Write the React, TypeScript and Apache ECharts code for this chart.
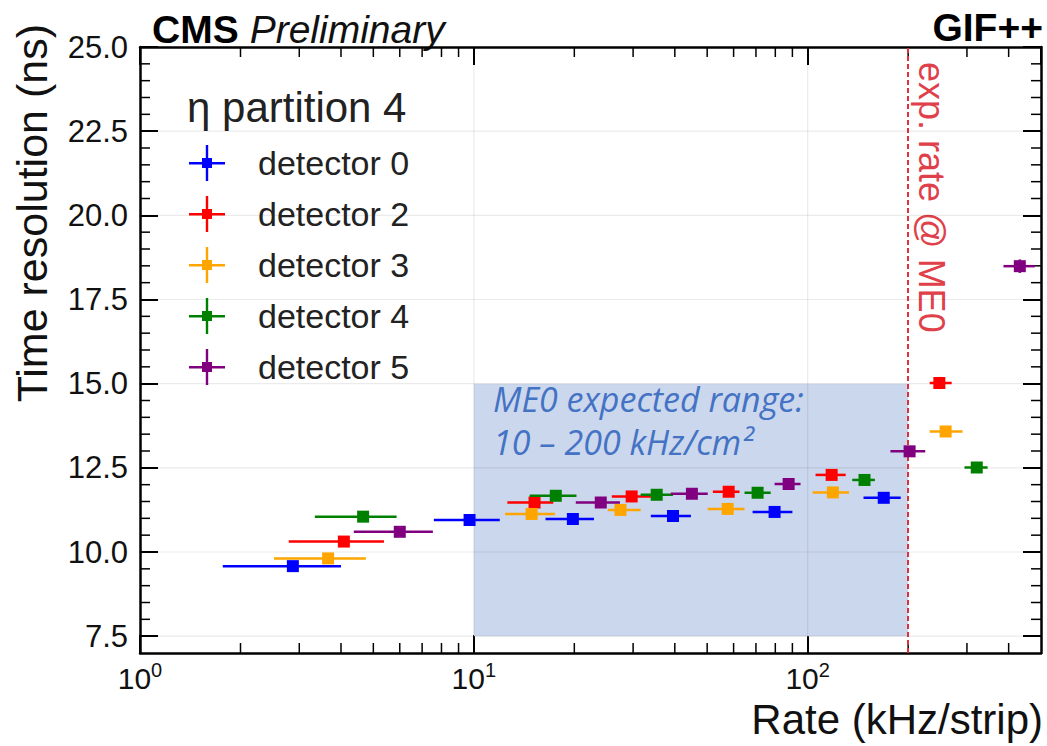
import React, { useEffect, useRef } from "react";
import * as echarts from "echarts";

// [rate (kHz/strip), time resolution (ns), rate low, rate high, resolution error]
const detector0 = [
  [2.87, 9.58, 1.77, 4.0, 0.08],
  [9.71, 10.95, 7.59, 11.96, 0.08],
  [19.8, 10.98, 16.4, 22.9, 0.08],
  [39.5, 11.07, 33.9, 44.7, 0.08],
  [79.6, 11.19, 68.4, 90.0, 0.08],
  [169, 11.61, 147, 190, 0.08],
];
const detector2 = [
  [4.08, 10.31, 2.79, 5.38, 0.08],
  [15.2, 11.47, 12.6, 17.3, 0.08],
  [29.7, 11.65, 25.9, 33.9, 0.08],
  [58.0, 11.79, 52.0, 62.5, 0.08],
  [118, 12.29, 105.6, 130, 0.1],
  [248, 15.02, 232, 270, 0.18],
];
const detector3 = [
  [3.66, 9.81, 2.52, 4.75, 0.08],
  [14.9, 11.13, 12.4, 17.5, 0.08],
  [27.5, 11.25, 25.2, 31.6, 0.08],
  [57.6, 11.28, 50.2, 64.7, 0.08],
  [119, 11.77, 103.5, 133, 0.1],
  [259, 13.58, 232, 291, 0.12],
];
const detector4 = [
  [4.66, 11.05, 3.34, 5.87, 0.08],
  [17.6, 11.67, 14.7, 20.3, 0.08],
  [35.3, 11.7, 31.6, 39.5, 0.08],
  [70.8, 11.76, 64.7, 77.5, 0.08],
  [148, 12.14, 136, 159, 0.1],
  [321, 12.51, 295, 346, 0.12],
];
const detector5 = [
  [6.0, 10.6, 4.37, 7.54, 0.08],
  [24.0, 11.47, 20.2, 27.4, 0.08],
  [45.0, 11.73, 38.9, 50.2, 0.08],
  [87.7, 12.02, 79.6, 95.2, 0.1],
  [202, 12.99, 177, 225, 0.15],
  [432, 18.49, 386, 479, 0.2],
];

const seriesNames = ["detector 0", "detector 2", "detector 3", "detector 4", "detector 5"];
const seriesColors = ["#0000ff", "#ff0000", "#ffa500", "#008000", "#800080"];
const seriesData = [detector0, detector2, detector3, detector4, detector5];

const yMajorTicks = [7.5, 10, 12.5, 15, 17.5, 20, 22.5, 25];
const yGridValues = [7.5, 10, 12.5, 15, 17.5, 20, 22.5];
const yMinorTicks = [8, 8.5, 9, 9.5, 10.5, 11, 11.5, 12, 13, 13.5, 14, 14.5, 15.5, 16, 16.5, 17, 18, 18.5, 19, 19.5, 20.5, 21, 21.5, 22, 23, 23.5, 24, 24.5];
const xMinorTicks = [2, 3, 4, 5, 6, 7, 8, 9, 20, 30, 40, 50, 60, 70, 80, 90, 200, 300, 400];
const xGridValues = [10, 100];

const expectedRange = [10, 200];
const expectedBand = [7.5, 15];
const expRateME0 = 200;

const X_MIN = 1;
const X_MAX = 500;
const Y_MIN = 7;
const Y_MAX = 25;

const FONT = "Liberation Sans, Arial, sans-serif";
const NOTE_FONT = "Open Sans, sans-serif";
const LEGEND_ICON = "path://M0,17H36V19.4H0Z M16.8,0H19.2V36H16.8Z M13,13H23V23H13Z";

export default function App() {
  const ref = useRef<HTMLDivElement>(null);
  useEffect(() => {
    if (!ref.current) return;
    const chart = echarts.init(ref.current, null, { renderer: "svg" });

    const pointSeries = seriesData.map((d, i) => ({
      type: "custom",
      name: seriesNames[i],
      xAxisIndex: 0,
      yAxisIndex: 0,
      z: 5,
      itemStyle: { color: seriesColors[i] },
      encode: { x: 0, y: 1 },
      data: d,
      renderItem: (params: any, api: any) => {
        const x = api.value(0);
        const y = api.value(1);
        const lo = api.value(2);
        const hi = api.value(3);
        const ye = api.value(4);
        const c = api.coord([x, y]);
        const pl = api.coord([lo, y]);
        const ph = api.coord([hi, y]);
        const pt = api.coord([x, y + ye]);
        const pb = api.coord([x, y - ye]);
        const color = seriesColors[i];
        return {
          type: "group",
          children: [
            { type: "line", shape: { x1: pl[0], y1: c[1], x2: ph[0], y2: c[1] }, style: { stroke: color, lineWidth: 2.5 } },
            { type: "line", shape: { x1: c[0], y1: pt[1], x2: c[0], y2: pb[1] }, style: { stroke: color, lineWidth: 2.5 } },
            { type: "rect", shape: { x: c[0] - 6, y: c[1] - 6, width: 12, height: 12 }, style: { fill: color } },
          ],
        };
      },
    }));

    const option: any = {
      animation: false,
      backgroundColor: "#ffffff",
      grid: { left: 140, right: 6, top: 47, bottom: 93, containLabel: false, outerBoundsMode: "none" },
      xAxis: [
        {
          type: "log",
          logBase: 10,
          min: X_MIN,
          max: X_MAX,
          position: "bottom",
          axisLine: { show: true, lineStyle: { color: "#000", width: 2.5 } },
          axisTick: { show: true, inside: true, length: 18, lineStyle: { color: "#000", width: 2 } },
          minorTick: { show: false },
          splitLine: { show: false },
          axisLabel: {
            show: true,
            margin: 7,
            showMaxLabel: false,
            formatter: (v: number) => {
              const e = Math.log10(v);
              const r = Math.round(e);
              if (Math.abs(e - r) > 1e-6) return "";
              return "{b|10}{s|" + r + "}";
            },
            rich: {
              b: { fontSize: 30, fontFamily: FONT, color: "#111" },
              s: { fontSize: 20, fontFamily: FONT, color: "#111", padding: [0, 0, 16, 0] },
            },
          },
        },
        {
          type: "log",
          logBase: 10,
          min: X_MIN,
          max: X_MAX,
          position: "top",
          axisLine: { show: true, lineStyle: { color: "#000", width: 2.5 } },
          axisTick: { show: true, inside: true, length: 18, lineStyle: { color: "#000", width: 2 } },
          axisLabel: { show: false },
          splitLine: { show: false },
        },
      ],
      yAxis: [
        {
          type: "value",
          min: Y_MIN,
          max: Y_MAX,
          position: "left",
          axisLine: { show: true, lineStyle: { color: "#000", width: 2.5 } },
          axisTick: { show: true, inside: true, length: 18, customValues: yMajorTicks, lineStyle: { color: "#000", width: 2 } },
          splitLine: { show: false },
          axisLabel: {
            show: true,
            margin: 12,
            customValues: yMajorTicks,
            formatter: (v: number) => v.toFixed(1),
            fontSize: 31,
            fontFamily: FONT,
            color: "#111",
          },
        },
        {
          type: "value",
          min: Y_MIN,
          max: Y_MAX,
          position: "right",
          axisLine: { show: true, lineStyle: { color: "#000", width: 2.5 } },
          axisTick: { show: true, inside: true, length: 18, customValues: yMajorTicks, lineStyle: { color: "#000", width: 2 } },
          axisLabel: { show: false },
          splitLine: { show: false },
        },
      ],
      legend: {
        show: true,
        orient: "vertical",
        left: 184,
        top: 140,
        itemWidth: 36,
        itemHeight: 36,
        itemGap: 15,
        selectedMode: false,
        data: seriesNames.map((n, i) => ({ name: n, icon: LEGEND_ICON, itemStyle: { color: seriesColors[i] } })),
        textStyle: { fontSize: 34, fontFamily: FONT, color: "#222", padding: [0, 0, 0, 28] },
      },
      graphic: [
        {
          type: "text",
          x: 152,
          y: 29,
          style: {
            text: "{b|CMS}{i|Preliminary}",
            verticalAlign: "middle",
            rich: {
              b: { fontSize: 39, fontWeight: "bold", fontFamily: FONT, fill: "#000" },
              i: { fontSize: 39, fontStyle: "italic", fontFamily: FONT, fill: "#111", padding: [0, 0, 0, 11] },
            },
          },
        },
        {
          type: "text",
          x: 1043,
          y: 27,
          style: { text: "GIF++", align: "right", verticalAlign: "middle", fontSize: 39, fontWeight: "bold", fontFamily: FONT, fill: "#000" },
        },
        {
          type: "text",
          x: 187,
          y: 107,
          style: { text: "η partition 4", verticalAlign: "middle", fontSize: 42, fontFamily: FONT, fill: "#222" },
        },
        {
          type: "text",
          x: 493,
          y: 399,
          z: 10,
          style: { text: "ME0 expected range:", verticalAlign: "middle", fontSize: 34, lineHeight: 38, fontStyle: "italic", fontFamily: NOTE_FONT, fill: "#4472c4" },
        },
        {
          type: "text",
          x: 493,
          y: 442,
          z: 10,
          style: { text: "10 – 200 kHz/cm²", verticalAlign: "middle", fontSize: 34, lineHeight: 38, fontStyle: "italic", fontFamily: NOTE_FONT, fill: "#4472c4" },
        },
        {
          type: "text",
          x: 931,
          y: 62,
          rotation: -Math.PI / 2,
          style: { text: "exp. rate @ ME0", align: "left", verticalAlign: "middle", fontSize: 36, fontFamily: FONT, fill: "#e0404a" },
        },
        {
          type: "text",
          x: 32,
          y: 24,
          rotation: Math.PI / 2,
          style: { text: "Time resolution (ns)", align: "right", verticalAlign: "middle", fontSize: 43, fontFamily: FONT, fill: "#111" },
        },
        {
          type: "text",
          x: 1043,
          y: 719,
          style: { text: "Rate (kHz/strip)", align: "right", verticalAlign: "middle", fontSize: 42, fontFamily: FONT, fill: "#111" },
        },
      ],
      series: [
        {
          type: "line",
          name: "bands",
          data: [],
          z: 1,
          silent: true,
          markArea: {
            silent: true,
            itemStyle: { color: "#cbd7ec", opacity: 1 },
            data: [[{ coord: [expectedRange[0], expectedBand[0]] }, { coord: [expectedRange[1], expectedBand[1]] }]],
          },
          markLine: {
            silent: true,
            symbol: ["none", "none"],
            label: { show: false },
            lineStyle: { color: "#e0303c", type: [5, 3], width: 2 },
            data: [{ xAxis: expRateME0 }],
          },
        },
        {
          type: "custom",
          name: "xgrid",
          z: 2,
          silent: true,
          data: xGridValues.map((v) => [v, 10]),
          encode: { x: 0, y: 1 },
          renderItem: (params: any, api: any) => {
            const p = api.coord([api.value(0), api.value(1)]);
            const cs = params.coordSys;
            return { type: "line", shape: { x1: p[0], y1: cs.y, x2: p[0], y2: cs.y + cs.height }, style: { stroke: "rgba(0,0,0,0.08)", lineWidth: 1.2 } };
          },
        },
        {
          type: "custom",
          name: "ygrid",
          z: 2,
          silent: true,
          data: yGridValues.map((v) => [10, v]),
          encode: { x: 0, y: 1 },
          renderItem: (params: any, api: any) => {
            const p = api.coord([api.value(0), api.value(1)]);
            const cs = params.coordSys;
            return { type: "line", shape: { x1: cs.x, y1: p[1], x2: cs.x + cs.width, y2: p[1] }, style: { stroke: "rgba(0,0,0,0.08)", lineWidth: 1.2 } };
          },
        },
        {
          type: "custom",
          name: "xminor",
          z: 4,
          silent: true,
          data: xMinorTicks.map((v) => [v, 10]),
          encode: { x: 0, y: 1 },
          renderItem: (params: any, api: any) => {
            const p = api.coord([api.value(0), api.value(1)]);
            const cs = params.coordSys;
            const b = cs.y + cs.height;
            return {
              type: "group",
              children: [
                { type: "line", shape: { x1: p[0], y1: b, x2: p[0], y2: b - 10 }, style: { stroke: "#000", lineWidth: 1.5 } },
                { type: "line", shape: { x1: p[0], y1: cs.y, x2: p[0], y2: cs.y + 10 }, style: { stroke: "#000", lineWidth: 1.5 } },
              ],
            };
          },
        },
        {
          type: "custom",
          name: "yminor",
          z: 4,
          silent: true,
          data: yMinorTicks.map((v) => [10, v]),
          encode: { x: 0, y: 1 },
          renderItem: (params: any, api: any) => {
            const p = api.coord([api.value(0), api.value(1)]);
            const cs = params.coordSys;
            const r = cs.x + cs.width;
            return {
              type: "group",
              children: [
                { type: "line", shape: { x1: cs.x, y1: p[1], x2: cs.x + 10, y2: p[1] }, style: { stroke: "#000", lineWidth: 1.5 } },
                { type: "line", shape: { x1: r, y1: p[1], x2: r - 10, y2: p[1] }, style: { stroke: "#000", lineWidth: 1.5 } },
              ],
            };
          },
        },
        ...pointSeries,
      ],
    };

    chart.setOption(option);
    return () => chart.dispose();
  }, []);

  return (
    <div
      ref={ref}
      style={{ position: "fixed", left: 0, top: 0, width: 1047, height: 746, background: "#fff" }}
    />
  );
}
